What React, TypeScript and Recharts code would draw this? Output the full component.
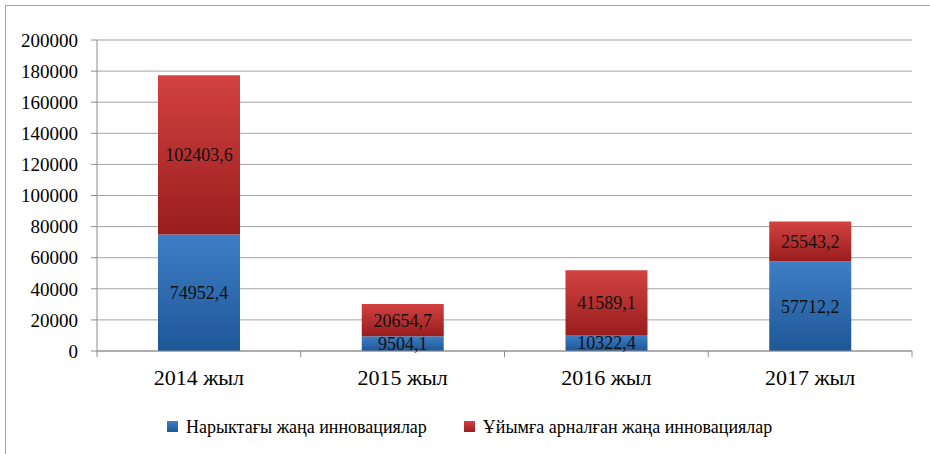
import React from 'react';
import { BarChart, Bar, XAxis, YAxis, CartesianGrid, LabelList } from 'recharts';

const years = ['2014 жыл', '2015 жыл', '2016 жыл', '2017 жыл'];
const marketInnovations = [74952.4, 9504.1, 10322.4, 57712.2];
const orgInnovations = [102403.6, 20654.7, 41589.1, 25543.2];
const yTicks = [0, 20000, 40000, 60000, 80000, 100000, 120000, 140000, 160000, 180000, 200000];
const seriesNames = ['Нарыктағы жаңа инновациялар', 'Ұйымға арналған жаңа инновациялар'];

const data = years.map((year, i) => ({
  year,
  market: marketInnovations[i],
  org: orgInnovations[i],
}));

const FONT = '"Liberation Serif", "Times New Roman", serif';
const AXIS_GRAY = '#8c8c8c';

const fmt = (v: any) => Number(v).toFixed(1).replace('.', ',');

function YearTick(props: any) {
  const { x, y, payload, index, visibleTicksCount } = props;
  const off = payload.offset || 0;
  const axisY = y - 18;
  return (
    <g>
      <line x1={x - off} x2={x - off} y1={axisY} y2={axisY + 6} stroke={AXIS_GRAY} />
      {index === visibleTicksCount - 1 && (
        <line x1={x + off} x2={x + off} y1={axisY} y2={axisY + 6} stroke={AXIS_GRAY} />
      )}
      <text x={x} y={y} dy="0.71em" textAnchor="middle" fontSize={22} fontFamily={FONT} fill="#000">
        {payload.value}
      </text>
    </g>
  );
}

function ValueTick(props: any) {
  const { x, y, payload } = props;
  return (
    <text x={x} y={y} dy="0.355em" textAnchor="end" fontSize={19} fontFamily={FONT} fill="#000">
      {payload.value}
    </text>
  );
}

function LegendBox({ color, label, gap }: { color: string; label: string; gap: number }) {
  return (
    <span style={{ display: 'inline-flex', alignItems: 'center', marginRight: gap }}>
      <span
        style={{
          display: 'inline-block',
          width: 11,
          height: 11,
          background: color,
          marginRight: 8,
        }}
      />
      <span>{label}</span>
    </span>
  );
}

export default function App() {
  return (
    <div style={{ position: 'fixed', left: 0, top: 0, width: 930, height: 454, overflow: 'hidden', background: '#fff' }}>
      <div
        style={{
          position: 'absolute',
          left: 5,
          top: 5,
          width: 960,
          height: 480,
          border: '1px solid #a6a6a6',
        }}
      />
      <BarChart
        width={930}
        height={454}
        data={data}
        margin={{ top: 40, right: 18, left: 0, bottom: 63 }}
        style={{ position: 'absolute', left: 0, top: 0 }}
      >
        <defs>
          <linearGradient id="gBlue" x1="0" y1="0" x2="0" y2="1">
            <stop offset="0%" stopColor="#3f7ec5" />
            <stop offset="100%" stopColor="#1e5797" />
          </linearGradient>
          <linearGradient id="gRed" x1="0" y1="0" x2="0" y2="1">
            <stop offset="0%" stopColor="#d24241" />
            <stop offset="100%" stopColor="#991d1e" />
          </linearGradient>
        </defs>
        <CartesianGrid vertical={false} stroke="#a3a3a3" />
        <XAxis
          dataKey="year"
          height={40}
          stroke={AXIS_GRAY}
          tickLine={false}
          tickSize={0}
          tickMargin={18}
          tick={<YearTick />}
          interval={0}
        />
        <YAxis
          width={97}
          domain={[0, 200000]}
          ticks={yTicks}
          interval={0}
          stroke={AXIS_GRAY}
          tickSize={6}
          tickMargin={13}
          tick={<ValueTick />}
        />
        <Bar dataKey="market" stackId="a" fill="url(#gBlue)" barSize={82} isAnimationActive={false}>
          <LabelList dataKey="market" position="center" formatter={fmt} fill="#111" fontSize={18} fontFamily={FONT} />
        </Bar>
        <Bar dataKey="org" stackId="a" fill="url(#gRed)" barSize={82} isAnimationActive={false}>
          <LabelList dataKey="org" position="center" formatter={fmt} fill="#111" fontSize={18} fontFamily={FONT} />
        </Bar>
      </BarChart>
      <div
        style={{
          position: 'absolute',
          left: 167,
          top: 414,
          fontFamily: FONT,
          fontSize: 18,
          color: '#000',
          whiteSpace: 'nowrap',
          lineHeight: '24px',
        }}
      >
        <LegendBox color="linear-gradient(#3f7ec5, #1e5797)" label={seriesNames[0]} gap={37} />
        <LegendBox color="linear-gradient(#d24241, #991d1e)" label={seriesNames[1]} gap={0} />
      </div>
    </div>
  );
}
